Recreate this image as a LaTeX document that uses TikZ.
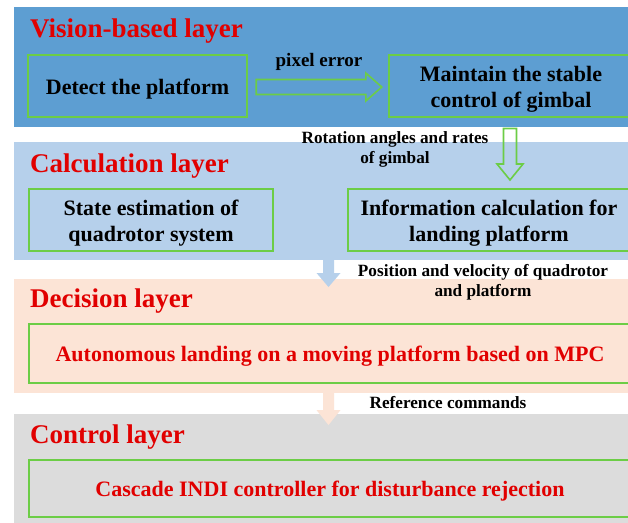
\documentclass[tikz,border=0pt]{standalone}
\usepackage{fontspec}
\setmainfont{Liberation Serif}
\usetikzlibrary{calc}
\definecolor{visblue}{RGB}{93,158,210}
\definecolor{calcblue}{RGB}{182,208,235}
\definecolor{decpeach}{RGB}{252,228,214}
\definecolor{ctrlgray}{RGB}{220,220,220}
\definecolor{boxgreen}{RGB}{108,205,70}
\definecolor{titlered}{RGB}{225,0,0}
\tikzset{
  layertitle/.style={anchor=base west, text=titlered, font=\fontsize{27}{31}\selectfont\bfseries, inner sep=0pt},
  gbox/.style={draw=boxgreen, line width=2.4pt, align=center, inner sep=0pt, font=\fontsize{22}{25.5}\selectfont\bfseries},
  oneline/.style={text height=21pt, text depth=4.8pt},
  twoline/.style={text height=47pt, text depth=5pt},
  lbl/.style={align=center, inner sep=0pt, font=\fontsize{17.2}{20}\selectfont\bfseries},
  hollow/.style={draw=boxgreen, line width=1.6pt, line join=miter},
}
\begin{document}
\begin{tikzpicture}[x=1pt,y=-1pt]
\useasboundingbox (0,0) rectangle (628,522);
\clip (0,0) rectangle (628,522);
\fill[white] (0,0) rectangle (628,522);
% layers
\fill[visblue] (14,7) rectangle (640,127);
\fill[calcblue] (14,142) rectangle (640,260);
\fill[decpeach] (14,279) rectangle (640,393);
\fill[ctrlgray] (14,414) rectangle (640,530);
% titles
\node[layertitle] (t1) at (30,37) {Vision-based layer};
\node[layertitle] (t2) at (30,172) {Calculation layer};
\node[layertitle] (t3) at (30,307) {Decision layer};
\node[layertitle] (t4) at (30,443) {Control layer};
% boxes
\node[gbox, oneline, minimum width=219pt, minimum height=62pt] (detect) at (137.5,86) {Detect the platform};
\node[gbox, twoline, minimum width=244pt, minimum height=62pt] (gimbal) at (511,86) {Maintain the stable\\control of gimbal};
\node[gbox, twoline, minimum width=244pt, minimum height=62pt] (state) at (151,220) {State estimation of\\quadrotor system};
\node[gbox, twoline, minimum width=282pt, minimum height=62pt] (info) at (489,220) {Information calculation for\\landing platform};
\node[gbox, oneline, minimum width=602pt, minimum height=59pt, text=titlered] (mpc) at (330,353.5) {Autonomous landing on a moving platform based on MPC};
\node[gbox, oneline, minimum width=602pt, minimum height=57pt, text=titlered] (indi) at (330,488.5) {Cascade INDI controller for disturbance rejection};
% horizontal hollow arrow detect -> gimbal
\coordinate (ha) at ($(detect.east)+(8,1)$);
\coordinate (hb) at ($(gimbal.west)+(-6,1)$);
\draw[hollow] ($(ha)+(0,-7.5)$) -- ($(hb)+(-16,-7.5)$) -- ($(hb)+(-16,-14)$) -- (hb) -- ($(hb)+(-16,14)$) -- ($(hb)+(-16,7.5)$) -- ($(ha)+(0,7.5)$) -- cycle;
\node[lbl, font=\fontsize{19}{22}\selectfont\bfseries] (lpix) at ($($(ha)!0.5!(hb)$)+(0,-25)$) {pixel error};
% vertical hollow arrow gimbal -> info
\coordinate (va) at (510,128.5);
\coordinate (vb) at (510,180);
\draw[hollow] ($(va)+(-6.5,0)$) -- ($(vb)+(-6.5,-16)$) -- ($(vb)+(-13,-16)$) -- (vb) -- ($(vb)+(13,-16)$) -- ($(vb)+(6.5,-16)$) -- ($(va)+(6.5,0)$) -- cycle;
\node[lbl] (lrot) at (395,149) {Rotation angles and rates\\of gimbal};
% filled arrow calc -> decision
\coordinate (ca) at (328.5,259);
\coordinate (cb) at (328.5,287);
\fill[calcblue] ($(ca)+(-5.5,0)$) -- ($(cb)+(-5.5,-14)$) -- ($(cb)+(-12,-14)$) -- (cb) -- ($(cb)+(12,-14)$) -- ($(cb)+(5.5,-14)$) -- ($(ca)+(5.5,0)$) -- cycle;
\node[lbl] (lpos) at (483,282) {Position and velocity of quadrotor\\and platform};
% filled arrow decision -> control
\coordinate (da) at (328.5,392);
\coordinate (db) at (328.5,425);
\fill[decpeach] ($(da)+(-5.5,0)$) -- ($(db)+(-5.5,-15)$) -- ($(db)+(-12,-15)$) -- (db) -- ($(db)+(12,-15)$) -- ($(db)+(5.5,-15)$) -- ($(da)+(5.5,0)$) -- cycle;
\node[lbl, anchor=base] (lref) at (448,408.5) {Reference commands};
\end{tikzpicture}
\end{document}
